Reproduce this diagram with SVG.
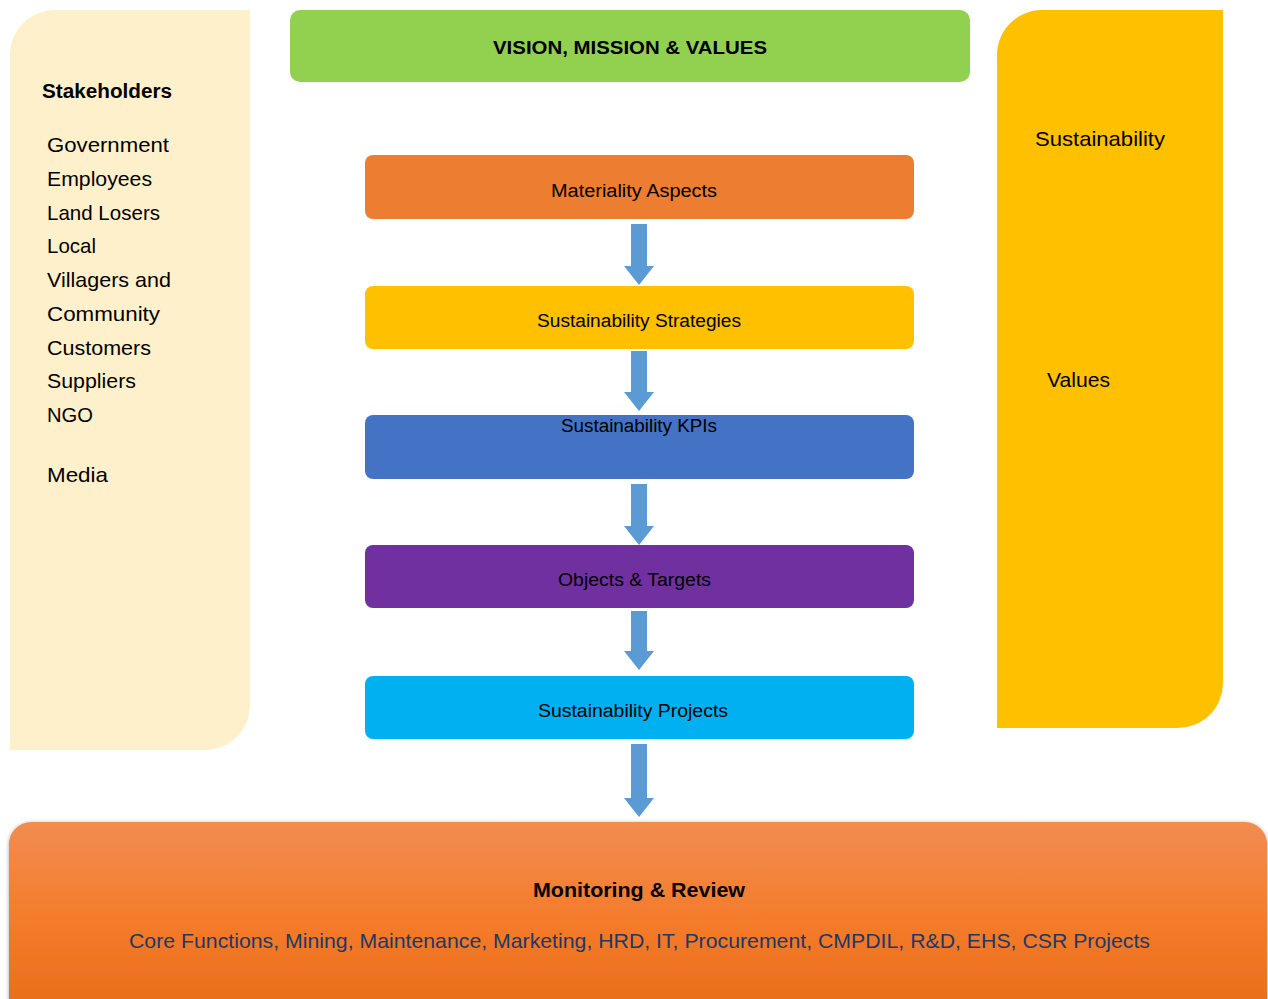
<svg xmlns="http://www.w3.org/2000/svg" width="1268" height="999" viewBox="0 0 1268 999">
<defs>
<style>
text{font-family:"Liberation Sans",Arial,sans-serif;fill:#000}
.b{font-weight:bold}
.list{font-size:21px}
.box{font-size:18px}
.arrow{fill:#5B9BD5}
</style>
<linearGradient id="og" x1="0" y1="0" x2="0" y2="1">
<stop offset="0" stop-color="#F18D52"/>
<stop offset="0.5" stop-color="#F47B2A"/>
<stop offset="1" stop-color="#E66C17"/>
</linearGradient>
<filter id="sh" x="-5%" y="-10%" width="110%" height="130%">
<feGaussianBlur in="SourceAlpha" stdDeviation="2"/>
<feOffset dx="0" dy="1"/>
<feComponentTransfer><feFuncA type="linear" slope="0.35"/></feComponentTransfer>
<feMerge><feMergeNode/><feMergeNode in="SourceGraphic"/></feMerge>
</filter>
<path id="arr" d="M-8,0 L8,0 L8,42 L15,42 L0,61 L-15,42 L-8,42 Z"/>
</defs>
<rect width="1268" height="999" fill="#fff"/>

<g id="stakeholders">
<path d="M10,750 L10,55 A45,45 0 0 1 55,10 L250,10 L250,705 A45,45 0 0 1 205,750 Z" fill="#FFF0CC"/>
<text x="42" y="98" class="b" font-size="20" textLength="130" lengthAdjust="spacingAndGlyphs">Stakeholders</text>
<text x="47" y="152" class="list" textLength="122" lengthAdjust="spacingAndGlyphs">Government</text>
<text x="47" y="186" class="list" textLength="105" lengthAdjust="spacingAndGlyphs">Employees</text>
<text x="47" y="220" class="list" textLength="113" lengthAdjust="spacingAndGlyphs">Land Losers</text>
<text x="47" y="253" class="list" textLength="49" lengthAdjust="spacingAndGlyphs">Local</text>
<text x="47" y="287" class="list" textLength="124" lengthAdjust="spacingAndGlyphs">Villagers and</text>
<text x="47" y="321" class="list" textLength="113" lengthAdjust="spacingAndGlyphs">Community</text>
<text x="47" y="355" class="list" textLength="104" lengthAdjust="spacingAndGlyphs">Customers</text>
<text x="47" y="388" class="list" textLength="89" lengthAdjust="spacingAndGlyphs">Suppliers</text>
<text x="47" y="422" class="list" textLength="46" lengthAdjust="spacingAndGlyphs">NGO</text>
<text x="47" y="482" class="list" textLength="61" lengthAdjust="spacingAndGlyphs">Media</text>
</g>

<g id="values">
<path d="M997,728 L997,55 A45,45 0 0 1 1042,10 L1223,10 L1223,683 A45,45 0 0 1 1178,728 Z" fill="#FFC000"/>
<text x="1035" y="146" class="list" textLength="130" lengthAdjust="spacingAndGlyphs">Sustainability</text>
<text x="1047" y="387" class="list" textLength="63" lengthAdjust="spacingAndGlyphs">Values</text>
</g>

<g id="vision">
<rect x="290" y="10" width="680" height="72" rx="10" fill="#92D050"/>
<text x="493" y="54" class="b" font-size="19" textLength="274" lengthAdjust="spacingAndGlyphs">VISION, MISSION &amp; VALUES</text>
</g>

<g id="materiality">
<rect x="365" y="155" width="549" height="64" rx="8" fill="#ED7D31"/>
<text x="551" y="197" class="box" textLength="166" lengthAdjust="spacingAndGlyphs">Materiality Aspects</text>
</g>

<g id="strategies">
<rect x="365" y="286" width="549" height="63" rx="8" fill="#FFC000"/>
<text x="537" y="327" class="box" textLength="204" lengthAdjust="spacingAndGlyphs">Sustainability Strategies</text>
</g>

<g id="kpis">
<rect x="365" y="415" width="549" height="64" rx="8" fill="#4472C4"/>
<text x="561" y="432" class="box" textLength="156" lengthAdjust="spacingAndGlyphs">Sustainability KPIs</text>
</g>

<g id="objects">
<rect x="365" y="545" width="549" height="63" rx="8" fill="#7030A0"/>
<text x="558" y="586" class="box" textLength="153" lengthAdjust="spacingAndGlyphs">Objects &amp; Targets</text>
</g>

<g id="projects">
<rect x="365" y="676" width="549" height="63" rx="8" fill="#00B0F0"/>
<text x="538" y="717" class="box" textLength="190" lengthAdjust="spacingAndGlyphs">Sustainability Projects</text>
</g>

<g id="connectors" class="arrow">
<path d="M631,224 L647,224 L647,266 L654,266 L639,285 L624,266 L631,266 Z"/>
<path d="M631,351 L647,351 L647,392 L654,392 L639,411 L624,392 L631,392 Z"/>
<path d="M631,484 L647,484 L647,526 L654,526 L639,545 L624,526 L631,526 Z"/>
<path d="M631,611 L647,611 L647,651 L654,651 L639,670 L624,651 L631,651 Z"/>
<path d="M631,744 L647,744 L647,798 L654,798 L639,817 L624,798 L631,798 Z"/>
</g>

<g id="monitoring">
<rect x="9" y="822" width="1258" height="200" rx="22" fill="url(#og)" filter="url(#sh)"/>
<text x="533" y="897" class="b" font-size="20" textLength="212" lengthAdjust="spacingAndGlyphs">Monitoring &amp; Review</text>
<text x="129" y="948" font-size="21" style="fill:#1F3864" textLength="1021" lengthAdjust="spacingAndGlyphs">Core Functions, Mining, Maintenance, Marketing, HRD, IT, Procurement, CMPDIL, R&amp;D, EHS, CSR Projects</text>
</g>
</svg>
